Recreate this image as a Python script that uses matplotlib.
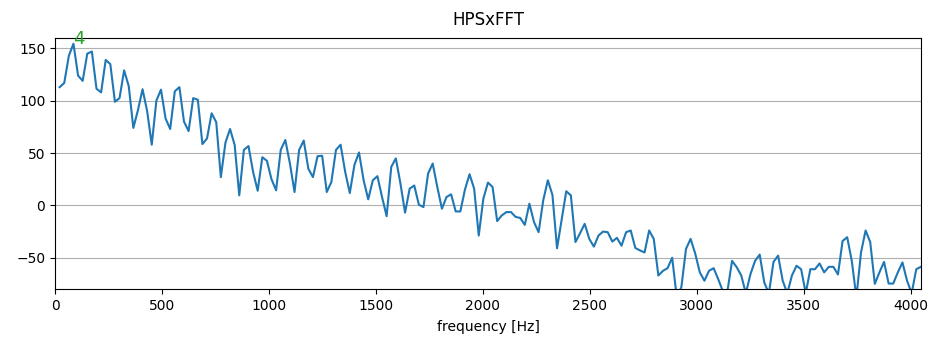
import numpy as np
import matplotlib
matplotlib.use('Agg')
import matplotlib.pyplot as plt

# HPS x FFT magnitude (dB-ish), bins 1..188, bin width 44100/2048 Hz
bin_width = 44100 / 2048
hps = [
    113, 117, 143, 154.5, 124, 119, 145, 147, 111.5, 108,
    139, 135, 99, 102.5, 129, 114, 74, 91, 111, 90,
    58, 100, 110.6, 83, 73, 109, 113, 80, 71, 102.5,
    101, 58.6, 64, 88, 79.5, 27, 60, 73, 57.7, 9.6,
    53, 56.7, 32, 14, 46, 42.6, 25, 14.4, 53, 62.5,
    40, 12.8, 53, 62, 35, 27, 47, 47.4, 12.8, 22.4,
    53, 58, 32, 11.8, 38.5, 50.6, 24, 5.8, 24, 27.9,
    8, -10.3, 36.8, 44.9, 20.8, -7, 16, 19, 0.6, -1.6,
    30.4, 40, 17.6, -3.2, 8, 10.6, -5.8, -5.8, 15, 29.8,
    16, -28.8, 6.4, 21.8, 17.6, -15, -9.6, -6.4, -6.4, -11,
    -12, -18.6, 1.6, -16, -25.6, 4.8, 24, 10, -41, -14,
    13.5, 9.6, -35, -26.6, -17.6, -32, -39.4, -28.8, -25, -25.6,
    -34.6, -31, -38.5, -25.6, -24, -40.7, -43, -45, -24, -32,
    -67, -62.5, -60, -50, -88, -78, -41.6, -32, -46, -64,
    -72, -62.5, -60, -70.5, -82, -82, -53, -59, -67, -84,
    -65.7, -53, -47, -73.7, -84, -54, -48, -72, -84, -67,
    -57.7, -61, -84, -61, -61, -55.5, -64, -58.7, -58.7, -66,
    -34, -30.4, -53, -88, -45, -24, -35, -75, -64, -54,
    -74.7, -74.7, -64, -54.5, -72, -84, -61, -58.7,
]
peak_idx = 4

hps = np.array(hps)
freqs = np.arange(1, len(hps) + 1) * bin_width

fig = plt.figure(figsize=(9.33, 3.45), dpi=100)
ax = fig.add_subplot(111)
fig.subplots_adjust(left=0.059, right=0.987, bottom=0.162, top=0.89)

ax.plot(freqs, hps)
ax.text(freqs[peak_idx - 1], hps[peak_idx - 1], str(peak_idx), color='C2', fontsize=13)
ax.set_title('HPSxFFT', pad=9)
ax.set_xlabel('frequency [Hz]', labelpad=5)
ax.set_xlim(0, freqs[-1])
ax.set_ylim(-80, 160)
ax.grid(axis='y')

fig.savefig('out.png')
